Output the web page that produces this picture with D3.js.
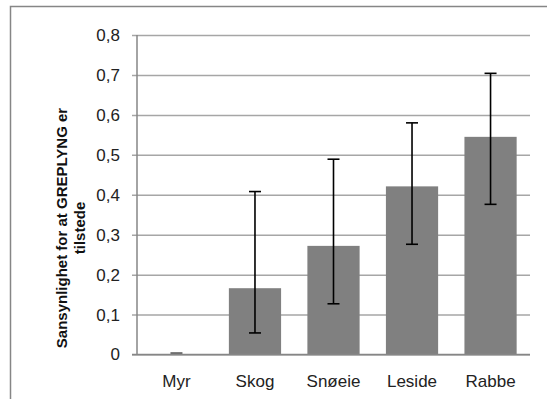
<!DOCTYPE html>
<html>
<head>
<meta charset="utf-8">
<script src="https://cdn.jsdelivr.net/npm/d3@7"></script>
<style>
  body { margin: 0; background: #fff; }
  svg { display: block; font-family: "Liberation Sans", Arial, sans-serif; }
</style>
</head>
<body>
<div id="chart"></div>
<script>
const categories = ["Myr", "Skog", "Snøeie", "Leside", "Rabbe"];
const values = [0, 0.166, 0.272, 0.421, 0.545];
const errLow = [0, 0.054, 0.127, 0.276, 0.376];
const errHigh = [0, 0.408, 0.489, 0.580, 0.704];
const yTicks = [0, 0.1, 0.2, 0.3, 0.4, 0.5, 0.6, 0.7, 0.8];
const yTitle = ["Sansynlighet for at GREPLYNG er", "tilstede"];

const width = 547, height = 399;
const plot = { left: 137, right: 530, top: 35, bottom: 354.5 };

const svg = d3.select("#chart").append("svg")
    .attr("width", width)
    .attr("height", height);

// outer chart frame (runs off the right and bottom edges)
svg.append("rect")
    .attr("x", 10.5).attr("y", 6.5)
    .attr("width", 560).attr("height", 420)
    .attr("fill", "#fff")
    .attr("stroke", "#868686")
    .attr("stroke-width", 1.5);

const x = d3.scaleBand()
    .domain(categories)
    .range([plot.left, plot.right])
    .paddingInner(0.335)
    .paddingOuter(0.17);

const y = d3.scaleLinear()
    .domain([0, 0.8])
    .range([plot.bottom, plot.top]);

const fmt = d3.formatLocale({ decimal: ",", thousands: " ", grouping: [3], currency: ["", ""] }).format("~g");

// gridlines + y labels
const yAxis = d3.axisLeft(y)
    .tickValues(yTicks)
    .tickFormat(d => fmt(d))
    .tickSize(-(plot.right - plot.left) - 5)
    .tickPadding(12);

svg.append("g")
    .attr("transform", `translate(${plot.left - 5},0)`)
    .call(yAxis)
    .call(g => g.select(".domain").remove())
    .call(g => g.selectAll(".tick line").attr("stroke", "#a6a6a6").attr("stroke-width", 1.5))
    .call(g => g.selectAll(".tick text")
        .attr("fill", "#222")
        .style("font-size", "17px")
        .attr("x", -12));

// bars
svg.selectAll(".bar")
    .data(categories)
    .enter()
    .append("rect")
    .attr("class", "bar")
    .attr("x", d => x(d))
    .attr("width", x.bandwidth())
    .attr("y", (d, i) => y(values[i]))
    .attr("height", (d, i) => y(0) - y(values[i]))
    .attr("fill", "#808080");

// axis lines
svg.append("line")
    .attr("x1", plot.left).attr("x2", plot.left)
    .attr("y1", plot.top).attr("y2", plot.bottom)
    .attr("stroke", "#868686").attr("stroke-width", 1.5);
svg.append("line")
    .attr("x1", plot.left - 5).attr("x2", plot.right)
    .attr("y1", plot.bottom).attr("y2", plot.bottom)
    .attr("stroke", "#868686").attr("stroke-width", 1.5);

// error bars
const cap = 6;
const eb = svg.append("g").attr("stroke", "#000").attr("stroke-width", 1.6);
categories.forEach((c, i) => {
    const cx = x(c) + x.bandwidth() / 2;
    const lift = errLow[i] === errHigh[i] ? 1.5 : 0;
    eb.append("line")
        .attr("x1", cx).attr("x2", cx)
        .attr("y1", y(errLow[i])).attr("y2", y(errHigh[i]));
    eb.append("line")
        .attr("x1", cx - cap).attr("x2", cx + cap)
        .attr("y1", y(errHigh[i]) - lift).attr("y2", y(errHigh[i]) - lift)
        .attr("stroke-width", lift ? 1 : 1.6);
    if (!lift) {
        eb.append("line")
            .attr("x1", cx - cap).attr("x2", cx + cap)
            .attr("y1", y(errLow[i])).attr("y2", y(errLow[i]));
    }
});

// x labels
svg.selectAll(".xlab")
    .data(categories)
    .enter()
    .append("text")
    .attr("class", "xlab")
    .attr("x", d => x(d) + x.bandwidth() / 2)
    .attr("y", 387)
    .attr("text-anchor", "middle")
    .attr("fill", "#222")
    .style("font-size", "17px")
    .text(d => d);

// y title
const title = svg.append("text")
    .attr("transform", `translate(67,228) rotate(-90)`)
    .attr("text-anchor", "middle")
    .attr("fill", "#111")
    .style("font-size", "15px")
    .style("font-weight", "bold");
yTitle.forEach((t, i) => {
    title.append("tspan")
        .attr("x", 0)
        .attr("dy", i === 0 ? 0 : 18)
        .text(t);
});
</script>
</body>
</html>
